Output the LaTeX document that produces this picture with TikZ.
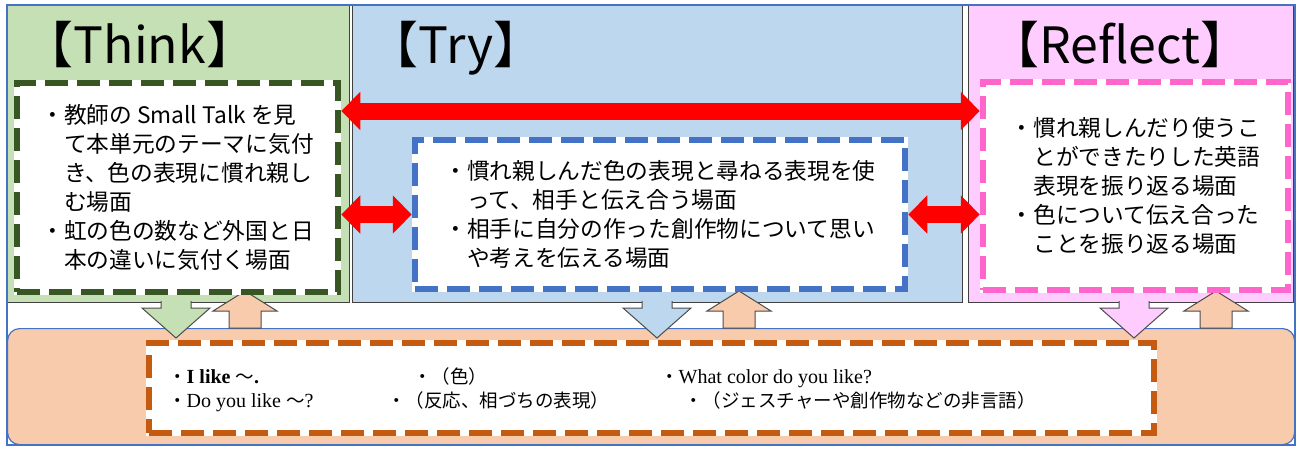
\documentclass[tikz,border=0pt]{standalone}
\usepackage{fontspec}
\setmainfont{Noto Sans CJK JP}
\newfontfamily\westfont{Liberation Serif}
\usepackage{tikz}
\usetikzlibrary{positioning}
\usetikzlibrary{arrows.meta}
\definecolor{thinkfill}{HTML}{C5E0B4}
\definecolor{tryfill}{HTML}{BDD7EE}
\definecolor{reflfill}{HTML}{FFCCFF}
\definecolor{basefill}{HTML}{F8CBAD}
\definecolor{thinkline}{HTML}{375623}
\definecolor{tryline}{HTML}{4472C4}
\definecolor{reflline}{HTML}{FF66CC}
\definecolor{baseline}{HTML}{C55A11}
\definecolor{frameblue}{HTML}{4472C4}
\definecolor{linkred}{HTML}{FF0000}
\newcommand{\ind}{\hspace*{1em}}
\newcommand{\en}[1]{{\westfont\fontsize{20}{24}\selectfont #1}}
\tikzset{stage/.style={rectangle,draw=black!75,line width=1.2pt,anchor=north west,inner sep=0pt}}
\tikzset{scene/.style={rectangle,draw=white,fill=white,line width=6.5pt,inner sep=0pt,align=left,font=\fontsize{22.7}{29}\selectfont,postaction={draw=#1,dash pattern=on 23pt off 9pt}}}
\tikzset{heading/.style={anchor=base,inner sep=0pt,font=\fontsize{50}{60}\selectfont}}
\tikzset{phrase/.style={anchor=base west,inner sep=0pt,font=\fontsize{18.5}{24}\selectfont}}
\tikzset{chute/.style={draw=black!70,line width=1pt}}
\tikzset{link/.style={draw=linkred,line width=17pt,<->,>={Triangle[width=37pt,length=19pt]}}}

\begin{document}
\begin{tikzpicture}[x=1pt,y=-1pt]
  \useasboundingbox (0,0) rectangle (1298,448);

  % three stages and the base
  \node [stage,fill=thinkfill,minimum width=342pt,minimum height=297pt] (Th) at (7,5) {};
  \node [stage,fill=tryfill,minimum width=610pt,minimum height=297pt] (Tr) at (352,5) {};
  \node [stage,fill=reflfill,minimum width=325pt,minimum height=297pt] (Re) at (968,5) {};
  \node [stage,draw=frameblue,fill=basefill,rounded corners=12pt,minimum width=1287pt,minimum height=116pt] (Ba) at (7,328) {};
  \draw [frameblue,line width=1.2pt] (7,5) rectangle (1295,445);

  \node [heading] (ThT) at (140,63) {【Think】};
  \node [heading] (TrT) at (456,63) {【Try】};
  \node [heading] (ReT) at (1120,63) {【Reflect】};

  % block arrows down and up
  \foreach \x/\c in {176/thinkfill,657/tryfill,1134/reflfill}
    \filldraw [chute,fill=\c] (\x-15,301) -- (\x-15,308) -- (\x-34,308) -- (\x,338)
      -- (\x+34,308) -- (\x+15,308) -- (\x+15,301);
  \foreach \x in {245,739,1216}
    \filldraw [chute,fill=basefill] (\x-16,328) -- (\x-16,311) -- (\x-32,311) -- (\x,291)
      -- (\x+32,311) -- (\x+16,311) -- (\x+16,328) -- cycle;

  \node [scene=thinkline,minimum width=321pt,minimum height=209pt] (ThBox) at (177.5,187.5)
  {
    ・教師の Small Talk を見\\
    \ind て本単元のテーマに気付\\
    \ind き、色の表現に慣れ親し\\
    \ind む場面\\
    ・虹の色の数など外国と日\\
    \ind 本の違いに気付く場面
  };
  \node [scene=tryline,minimum width=490pt,minimum height=149pt] (TrBox) at (660,214.5)
  {
    ・慣れ親しんだ色の表現と尋ねる表現を使\\
    \ind って、相手と伝え合う場面\\
    ・相手に自分の作った創作物について思い\\
    \ind や考えを伝える場面
  };
  \node [scene=reflline,minimum width=305pt,minimum height=208pt] (ReBox) at (1135.5,186)
  {
    ・慣れ親しんだり使うこ\\
    \ind とができたりした英語\\
    \ind 表現を振り返る場面\\
    ・色について伝え合った\\
    \ind ことを振り返る場面
  };
  \node [scene=baseline,minimum width=1005pt,minimum height=90pt] (BaBox) at (651.5,388) {};

  \node [phrase] (P1) at (168,383) {・\en{\bfseries I like }～\en{\bfseries .}};
  \node [phrase] (P2) at (168,407) {・\en{Do you like }～\en{?}};
  \node [phrase] (P3) at (413,383) {・（色）};
  \node [phrase] (P4) at (387,407) {・（反応、相づちの表現）};
  \node [phrase] (P5) at (660,383) {・\en{What color do you like?}};
  \node [phrase] (P6) at (684,407) {・（ジェスチャーや創作物などの非言語）};

  % red two-way arrows
  \draw [link] (ThBox.east |- 0,111) -- (ReBox.west |- 0,111);
  \draw [link] (ThBox.east |- TrBox.west) -- (TrBox.west);
  \draw [link] (TrBox.east) -- (TrBox.east -| ReBox.west);
\end{tikzpicture}
\end{document}
